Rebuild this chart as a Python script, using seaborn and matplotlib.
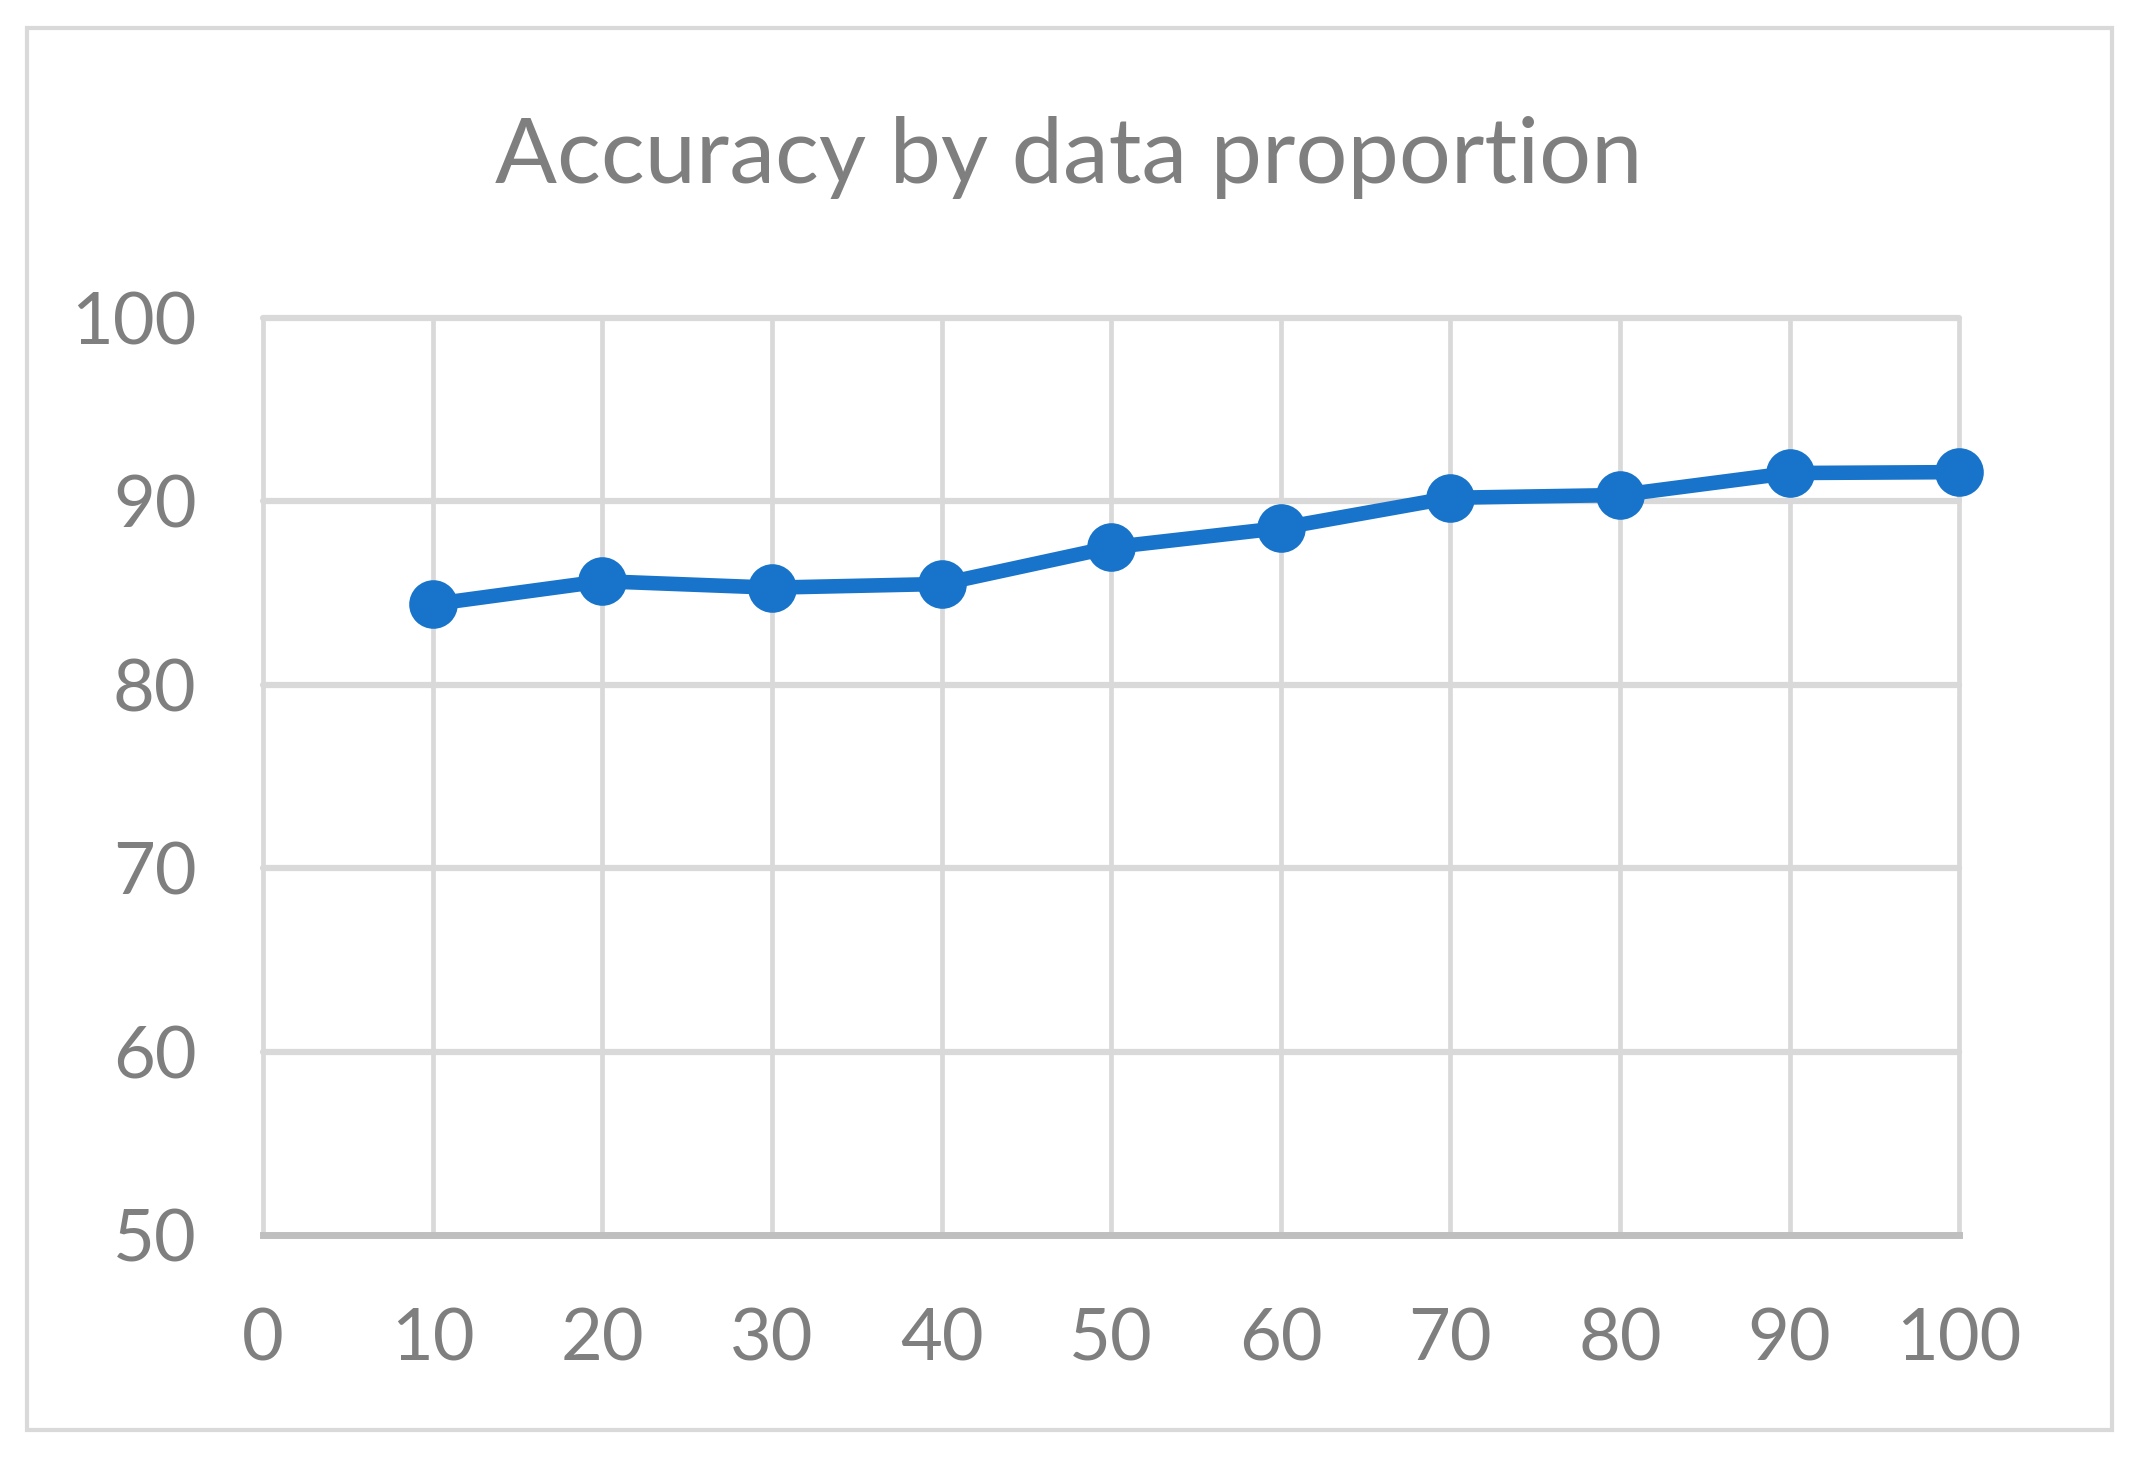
import matplotlib
matplotlib.use('Agg')
import matplotlib.pyplot as plt
import pandas as pd
import seaborn as sns
from matplotlib.patches import Rectangle

proportion = [10, 20, 30, 40, 50, 60, 70, 80, 90, 100]
accuracy = [84.4, 85.65, 85.3, 85.5, 87.5, 88.55, 90.2, 90.35, 91.55, 91.6]
x_ticks = [0, 10, 20, 30, 40, 50, 60, 70, 80, 90, 100]
y_ticks = [50, 60, 70, 80, 90, 100]

GRID = '#D9D9D9'
TEXT = '#7F7F7F'
LINE = '#1874CA'

sns.set_style('white')
plt.rcParams['font.family'] = ['Lato', 'DejaVu Sans']

df = pd.DataFrame({'proportion': proportion, 'accuracy': accuracy})

fig = plt.figure(figsize=(21.39, 14.59), dpi=100)
ax = fig.add_axes([0.1230, 0.1535, 0.7929, 0.6285])

sns.lineplot(data=df, x='proportion', y='accuracy', ax=ax, color=LINE,
             linewidth=10.5, marker='o', markersize=35, markeredgewidth=0,
             zorder=5, clip_on=False)

ax.set_xlim(0, 100)
ax.set_ylim(50, 100)
ax.set_xticks(x_ticks)
ax.set_yticks(y_ticks)
ax.set_xlabel('')
ax.set_ylabel('')

for x in x_ticks:
    ax.axvline(x, color=GRID, linewidth=3.4, zorder=1, clip_on=False)
for y in y_ticks[1:]:
    ax.axhline(y, color=GRID, linewidth=4.5, zorder=1, clip_on=False)

for s in ['top', 'right', 'left']:
    ax.spines[s].set_visible(False)
ax.spines['bottom'].set_color('#BFBFBF')
ax.spines['bottom'].set_linewidth(5)
ax.spines['bottom'].set_zorder(2)

ax.tick_params(axis='both', length=0, labelsize=52, labelcolor=TEXT)
ax.tick_params(axis='x', pad=52)
ax.tick_params(axis='y', pad=48)

fig.text(0.4995, 0.892, 'Accuracy by data proportion', ha='center',
         va='center', fontsize=66, color=TEXT)

fig.patches.append(Rectangle((27 / 2139, 1 - 1430 / 1459), (2112 - 27) / 2139,
                             (1430 - 28) / 1459, transform=fig.transFigure,
                             fill=False, edgecolor=GRID, linewidth=3, zorder=0))

fig.savefig('out.png', dpi=100, facecolor='white')
